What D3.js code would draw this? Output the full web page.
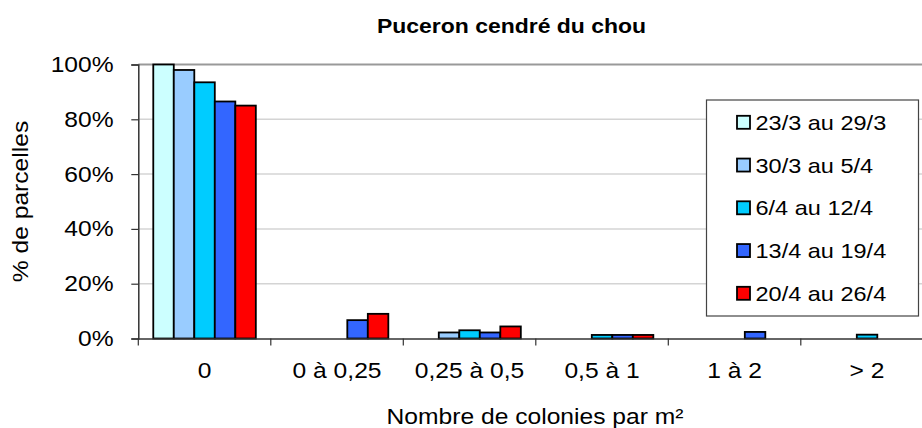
<!DOCTYPE html>
<html>
<head>
<meta charset="utf-8">
<script src="https://cdn.jsdelivr.net/npm/d3@7"></script>
<style>
  body { margin: 0; background: #fff; }
  text { font-family: "Liberation Sans", Arial, sans-serif; fill: #000; }
</style>
</head>
<body>
<div class="canvas"></div>
<script>
// data
const categories = ['0', '0 à 0,25', '0,25 à 0,5', '0,5 à 1', '1 à 2', '> 2'];
const seriesNames = ['23/3 au 29/3', '30/3 au 5/4', '6/4 au 12/4', '13/4 au 19/4', '20/4 au 26/4'];
const s1 = [100, 0, 0, 0, 0, 0];
const s2 = [98, 0, 2.2, 0, 0, 0];
const s3 = [93.5, 0, 3.0, 1.3, 0, 1.4];
const s4 = [86.5, 6.7, 2.2, 1.3, 2.4, 0];
const s5 = [85, 9, 4.4, 1.3, 0, 0];
const yTicks = [0, 20, 40, 60, 80, 100];
const colors = ['#CCFFFF', '#99CCFF', '#00CCFF', '#3366FF', '#FF0000'];

const allSeries = [s1, s2, s3, s4, s5];

const width = 922, height = 428;
const margin = { top: 64.5, left: 138.3 };
const graphHeight = 274;
const bandW = 132.5;
const graphWidth = bandW * categories.length; // runs past the right edge, like the original
const sx = 1.12; // text is a bit wider than tall in the original

const svg = d3.select('.canvas')
    .append('svg')
    .attr('width', width)
    .attr('height', height);

svg.append('rect').attr('width', width).attr('height', height).attr('fill', '#fff');

const graph = svg.append('g')
    .attr('transform', `translate(${margin.left}, ${margin.top})`);

// scales
const y = d3.scaleLinear().domain([0, 100]).range([graphHeight, 0]);
const x0 = d3.scaleBand().domain(categories).range([0, graphWidth]).padding(0);
const x1 = d3.scaleBand().domain(seriesNames).range([0, x0.bandwidth()])
    .paddingInner(0).paddingOuter(0.73);

// gridlines
graph.append('g')
    .selectAll('line')
    .data(yTicks.filter(d => d > 0))
    .enter().append('line')
    .attr('x1', 0).attr('x2', graphWidth)
    .attr('y1', d => y(d)).attr('y2', d => y(d))
    .attr('stroke', d => d === 100 ? '#999' : '#d4d4d4')
    .attr('stroke-width', d => d === 100 ? 2 : 1.5);

// bars
const groups = graph.append('g')
    .selectAll('g')
    .data(categories)
    .enter().append('g')
    .attr('transform', d => `translate(${x0(d)}, 0)`);

groups.selectAll('rect')
    .data((c, i) => allSeries.map((s, j) => ({ name: seriesNames[j], value: s[i], color: colors[j] })))
    .enter().append('rect')
    .filter(d => d.value > 0)
    .attr('x', d => x1(d.name))
    .attr('y', d => y(d.value))
    .attr('width', x1.bandwidth())
    .attr('height', d => graphHeight - y(d.value))
    .attr('fill', d => d.color)
    .attr('stroke', '#000')
    .attr('stroke-width', 1.8);

// axes
const yAxis = d3.axisLeft(y)
    .tickValues(yTicks)
    .tickSize(7)
    .tickPadding(15)
    .tickFormat(d => d + '%');

const xAxis = d3.axisBottom(x0)
    .tickSize(7)
    .tickPadding(17)
    .tickSizeOuter(0);

const yAxisGroup = graph.append('g').call(yAxis);
const xAxisGroup = graph.append('g')
    .attr('transform', `translate(0, ${graphHeight})`)
    .call(xAxis);

// category ticks sit on the boundaries, not the centres
xAxisGroup.selectAll('.tick line')
    .attr('x1', -bandW / 2).attr('x2', -bandW / 2);
xAxisGroup.append('line')
    .attr('x1', graphWidth).attr('x2', graphWidth).attr('y2', 7)
    .attr('stroke', '#333');

[yAxisGroup, xAxisGroup].forEach(g => {
    g.select('.domain').attr('stroke', '#333').attr('stroke-width', 1.5);
    g.selectAll('.tick line').attr('stroke', '#333').attr('stroke-width', 1.2);
    g.selectAll('text')
        .attr('font-size', 22)
        .attr('font-family', '"Liberation Sans", Arial, sans-serif')
        .attr('fill', '#000')
        .attr('transform', `scale(${sx},1)`);
});

// titles
svg.append('text')
    .attr('transform', `translate(511.5, 33) scale(${sx},1)`)
    .attr('text-anchor', 'middle')
    .attr('font-size', 20.5)
    .attr('font-weight', 'bold')
    .text('Puceron cendré du chou');

svg.append('text')
    .attr('transform', `translate(535, 424) scale(${sx},1)`)
    .attr('text-anchor', 'middle')
    .attr('font-size', 22)
    .text('Nombre de colonies par m²');

svg.append('text')
    .attr('transform', `translate(28, ${margin.top + graphHeight / 2}) rotate(-90) scale(${sx},1)`)
    .attr('text-anchor', 'middle')
    .attr('font-size', 22)
    .text('% de parcelles');

// legend
const legend = svg.append('g');
legend.append('rect')
    .attr('x', 706.5).attr('y', 100)
    .attr('width', 212).attr('height', 216)
    .attr('fill', '#fff')
    .attr('stroke', '#444')
    .attr('stroke-width', 1.2);

const rows = legend.selectAll('g.row')
    .data(seriesNames)
    .enter().append('g')
    .attr('class', 'row')
    .attr('transform', (d, i) => `translate(737, ${122.3 + i * 42.75})`);

rows.append('rect')
    .attr('x', 0).attr('y', -6.5)
    .attr('width', 13).attr('height', 13)
    .attr('fill', (d, i) => colors[i])
    .attr('stroke', '#000')
    .attr('stroke-width', 1.8);

rows.append('text')
    .attr('transform', `translate(18.5, 0) scale(${sx},1)`)
    .attr('dy', '0.36em')
    .attr('font-size', 21)
    .text(d => d);
</script>
</body>
</html>
